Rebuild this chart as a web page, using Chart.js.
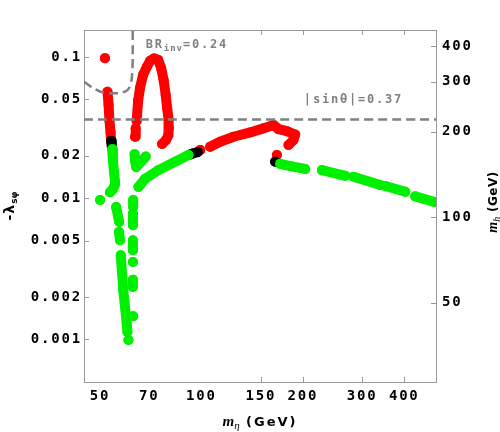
<!DOCTYPE html>
<html>
<head>
<meta charset="utf-8">
<script src="https://cdn.jsdelivr.net/npm/chart.js@4.4.0/dist/chart.umd.min.js"></script>
<style>
  html, body { margin: 0; padding: 0; background: #fff; }
  #wrap { width: 500px; height: 432px; position: relative; }
</style>
</head>
<body>
<div id="wrap"><canvas id="chart"></canvas></div>
<script>
// axis ranges and ticks
const xRange = [44.8, 497];
const lamRange = [0.0005, 0.155];
const mhRange = [26.3, 456];
const xTicks = [50, 70, 100, 150, 200, 300, 400];
const xFrameTicks = [150, 200, 300, 400];
const lamTicks = [0.001, 0.002, 0.005, 0.01, 0.02, 0.05, 0.1];
const mhTicks = [50, 100, 200, 300, 400];

// points as [m_eta, -lambda]
const redDotTop = [[51.7, 0.098]];
const redLeft = [[52.6, 0.0567], [53.0, 0.0457], [53.3, 0.0357], [53.7, 0.0294], [53.9, 0.0258]];
const redFoot = [[63.5, 0.0272], [63.8, 0.0312]];
const redArch = [[64.2, 0.0352], [64.9, 0.0496], [65.7, 0.0603], [67.1, 0.0746], [68.9, 0.0854], [70.4, 0.0937],
  [72.4, 0.0976], [74.4, 0.0952], [75.9, 0.0836], [77.2, 0.0687], [78.3, 0.0538], [79.1, 0.0435],
  [79.9, 0.0357], [80.1, 0.0314], [79.6, 0.0280], [78.5, 0.0258], [76.4, 0.0242]];
const redDotMid = [[99.2, 0.0219]];
const redRise = [[106.1, 0.0231], [113.6, 0.0251], [124.5, 0.0272], [139.5, 0.0292], [152.8, 0.0312], [163.6, 0.0330],
  [169.3, 0.0308], [179.4, 0.0298], [189.8, 0.0282], [187.6, 0.0258], [181.3, 0.0238]];
const redDotRight = [[167.5, 0.0202]];

const blackLeft = [[53.9, 0.0254], [54.2, 0.0230]];
const blackMid = [[92.5, 0.0204], [94.7, 0.0208], [97.5, 0.0212]];
const blackRight = [[165.5, 0.0181]];

const greenLeft = [[54.3, 0.0222], [54.6, 0.0186], [55.0, 0.0153], [55.4, 0.0130], [55.3, 0.0124], [54.6, 0.0116], [53.5, 0.0110]];
const greenDotLeft = [[50.0, 0.0097]];
const greenDrop = [
  [[55.8, 0.00867], [57.0, 0.00679]],
  [[56.9, 0.00577], [57.3, 0.00504]],
  [[57.6, 0.00394], [58.6, 0.00223], [60.0, 0.00129], [60.3, 0.00113]],
  [[60.7, 0.00099]]
];
const greenColumn = [
  [[62.7, 0.0097], [62.7, 0.00867]],
  [[62.6, 0.00779], [62.6, 0.00644]],
  [[62.6, 0.00504], [62.6, 0.00428]],
  [[62.6, 0.00353]],
  [[62.6, 0.00265], [62.6, 0.00235]],
  [[62.7, 0.00146]]
];
const greenV = [[63.3, 0.0205], [63.5, 0.0185], [64.0, 0.0166], [66.0, 0.0180], [68.3, 0.0197]];
const greenRise = [[65.0, 0.0120], [68.0, 0.0137], [74.5, 0.0158], [83.5, 0.0181], [91.5, 0.0202]];
const greenTail = [
  [[171.3, 0.0175], [185, 0.0168], [203.2, 0.0161]],
  [[227.9, 0.0158], [267.3, 0.0144]],
  [[282.8, 0.0142], [339.4, 0.0124]],
  [[351.3, 0.0122], [402.8, 0.0111]],
  [[431.3, 0.0103], [492, 0.0094]]
];

// constraint curves
const sinLine = [[44.8, 0.0361], [497, 0.0361]];
const brCurve = [[44.8, 0.0668], [47.3, 0.0608], [50.0, 0.0569], [53.5, 0.0553], [57.3, 0.0555], [59.8, 0.0574],
  [61.2, 0.0613], [62.0, 0.0687], [62.4, 0.0809], [62.5, 0.1033], [62.5, 0.16]];

const RED = '#ff0000';
const GREEN = '#00f000';
const BLACK = '#000000';
const GRAY = '#808080';

function track(points, color, order) {
  return {
    data: points.map(p => ({ x: p[0], y: p[1] })),
    showLine: true,
    borderColor: color,
    backgroundColor: color,
    borderWidth: 10,
    borderCapStyle: 'round',
    borderJoinStyle: 'round',
    pointRadius: 5,
    pointBorderWidth: 0,
    pointHoverRadius: 5,
    tension: 0,
    clip: 0,
    order: order
  };
}

function dashed(points) {
  return {
    data: points.map(p => ({ x: p[0], y: p[1] })),
    showLine: true,
    borderColor: GRAY,
    borderWidth: 2.5,
    borderDash: [9, 5],
    pointRadius: 0,
    tension: 0.2,
    clip: 0,
    order: 0
  };
}

const datasets = [];
[redDotTop, redLeft, redFoot, redArch, redDotMid, redRise, redDotRight].forEach(s => datasets.push(track(s, RED, 3)));
[blackLeft, blackMid, blackRight].forEach(s => datasets.push(track(s, BLACK, 2)));
[greenLeft, greenDotLeft, ...greenDrop, ...greenColumn, greenV, greenRise, ...greenTail].forEach(s => datasets.push(track(s, GREEN, 1)));
datasets.push(dashed(sinLine));
datasets.push(dashed(brCurve));

const tickFont = { family: '"DejaVu Sans Mono", monospace', weight: 'bold', size: 14 };

function drawRich(ctx, parts, x, y, angle, align) {
  ctx.save();
  ctx.translate(x, y);
  if (angle) ctx.rotate(angle);
  let total = 0;
  parts.forEach(p => {
    ctx.font = p.font;
    ctx.letterSpacing = (p.ls || 0) + 'px';
    p.w = ctx.measureText(p.t).width;
    total += p.w;
  });
  let cx = align === 'center' ? -total / 2 : (align === 'right' ? -total : 0);
  ctx.textBaseline = 'alphabetic';
  ctx.textAlign = 'left';
  parts.forEach(p => {
    ctx.font = p.font;
    ctx.letterSpacing = (p.ls || 0) + 'px';
    ctx.fillStyle = p.color || '#000';
    ctx.fillText(p.t, cx, p.dy || 0);
    cx += p.w;
  });
  ctx.restore();
}

const decorations = {
  id: 'decorations',
  beforeDraw(chart) {
    chart.ctx.letterSpacing = '1.8px';
  },
  beforeDatasetsDraw(chart) {
    const { ctx, chartArea: a, scales } = chart;
    ctx.save();
    ctx.strokeStyle = '#999';
    ctx.lineWidth = 1;
    ctx.beginPath();
    lamTicks.forEach(v => {
      const y = Math.round(scales.y.getPixelForValue(v)) + 0.5;
      ctx.moveTo(a.left, y); ctx.lineTo(a.left + 5, y);
    });
    mhTicks.forEach(v => {
      const y = Math.round(scales.yRight.getPixelForValue(v)) + 0.5;
      ctx.moveTo(a.right, y); ctx.lineTo(a.right - 5, y);
    });
    xFrameTicks.forEach(v => {
      const x = Math.round(scales.x.getPixelForValue(v)) + 0.5;
      ctx.moveTo(x, a.bottom); ctx.lineTo(x, a.bottom - 5);
      ctx.moveTo(x, a.top); ctx.lineTo(x, a.top + 5);
    });
    ctx.stroke();
    ctx.restore();
  },
  afterDraw(chart) {
    const { ctx, chartArea: a, scales } = chart;
    const mono = '"DejaVu Sans Mono", monospace';
    const cy = (a.top + a.bottom) / 2;

    // constraint labels
    drawRich(ctx, [
      { t: 'BR', font: 'bold 12px ' + mono, ls: 1.8, color: GRAY },
      { t: 'inv', font: 'bold 9px ' + mono, ls: 1, dy: 3, color: GRAY },
      { t: '=0.24', font: 'bold 12px ' + mono, ls: 1.8, color: GRAY }
    ], scales.x.getPixelForValue(68.3), 48, 0, 'left');
    drawRich(ctx, [
      { t: '|sinθ|=0.37', font: 'bold 12px ' + mono, ls: 1.8, color: GRAY }
    ], scales.x.getPixelForValue(397), 102.5, 0, 'right');

    // axis titles
    drawRich(ctx, [
      { t: 'm', font: 'italic bold 15px "Liberation Serif"' },
      { t: 'η', font: 'italic 11px "Liberation Serif"', dy: 3 },
      { t: ' (GeV)', font: 'bold 13px "DejaVu Sans"', ls: 2 }
    ], (a.left + a.right) / 2, 426, 0, 'center');
    drawRich(ctx, [
      { t: '-λ', font: 'bold 14px "DejaVu Sans"', ls: 1 },
      { t: 'sφ', font: 'bold 9px "DejaVu Sans"', dy: 3 }
    ], 14, cy, -Math.PI / 2, 'center');
    drawRich(ctx, [
      { t: 'm', font: 'italic bold 14px "Liberation Serif"' },
      { t: 'h', font: 'italic 10px "Liberation Serif"', dy: 3 },
      { t: ' (GeV)', font: 'bold 12px "DejaVu Sans"', ls: 0.5 }
    ], 497, cy - 4, -Math.PI / 2, 'center');
  }
};

const chart = new Chart(document.getElementById('chart'), {
  type: 'scatter',
  data: { datasets: datasets },
  options: {
    responsive: true,
    maintainAspectRatio: false,
    animation: false,
    layout: { padding: 0 },
    plugins: { legend: { display: false }, tooltip: { enabled: false } },
    scales: {
      x: {
        type: 'logarithmic',
        position: 'bottom',
        min: xRange[0],
        max: xRange[1],
        afterBuildTicks: s => { s.ticks = xTicks.map(v => ({ value: v })); },
        afterFit: s => { s.height = 50; },
        grid: { display: false, drawTicks: false },
        border: { display: true, color: '#999', width: 1 },
        ticks: { font: tickFont, color: '#000', padding: 6, maxRotation: 0, autoSkip: false, callback: v => String(v) }
      },
      xTop: {
        type: 'logarithmic',
        position: 'top',
        min: xRange[0],
        max: xRange[1],
        afterFit: s => { s.height = 30; },
        grid: { display: false, drawTicks: false },
        border: { display: true, color: '#999', width: 1 },
        ticks: { display: false }
      },
      y: {
        type: 'logarithmic',
        position: 'left',
        min: lamRange[0],
        max: lamRange[1],
        afterBuildTicks: s => { s.ticks = lamTicks.map(v => ({ value: v })); },
        afterFit: s => { s.width = 84; },
        grid: { display: false, drawTicks: false },
        border: { display: true, color: '#999', width: 1 },
        ticks: { font: tickFont, color: '#000', padding: 2, autoSkip: false, callback: v => String(v) }
      },
      yRight: {
        type: 'logarithmic',
        position: 'right',
        min: mhRange[0],
        max: mhRange[1],
        afterBuildTicks: s => { s.ticks = mhTicks.map(v => ({ value: v })); },
        afterFit: s => { s.width = 64; },
        grid: { display: false, drawTicks: false },
        border: { display: true, color: '#999', width: 1 },
        ticks: { font: tickFont, color: '#000', padding: 6, autoSkip: false, callback: v => String(v) }
      }
    }
  },
  plugins: [decorations]
});
</script>
</body>
</html>
